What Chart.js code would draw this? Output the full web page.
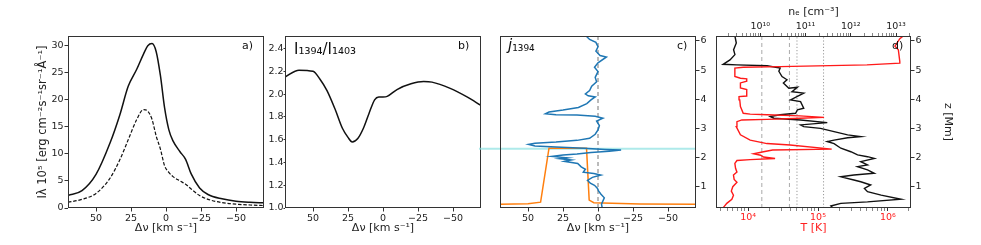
<!DOCTYPE html>
<html>
<head>
<meta charset="utf-8">
<script src="https://cdn.jsdelivr.net/npm/chart.js@4"></script>
<style>
body { margin: 0; background: #fff; }
#wrap { position: relative; width: 981px; height: 245px; }
canvas { position: absolute; left: 0; top: 0; }
</style>
</head>
<body>
<div id="wrap">
  <canvas id="panelA" width="981" height="245"></canvas>
  <canvas id="panelB" width="981" height="245"></canvas>
  <canvas id="panelC" width="981" height="245"></canvas>
  <canvas id="panelD" width="981" height="245"></canvas>
</div>
<script>
// ---- data ----
// a) line profiles (solid = 1394, dashed = 1403)
const dvA = [70, 60, 50, 40, 33, 27, 21, 16, 13, 10, 7, 4, 1, -2, -5, -10, -14, -18, -24, -30, -40, -50, -60, -70];
const int1394 = [2.3, 3.2, 6.2, 12.0, 17.2, 22.5, 25.6, 28.5, 30.0, 30.4, 28.9, 24.5, 18.5, 14.5, 12.4, 10.4, 9.0, 6.3, 3.7, 2.5, 1.7, 1.25, 1.05, 0.95];
const int1403 = [1.05, 1.6, 2.7, 5.5, 8.9, 12.6, 16.3, 18.2, 17.9, 16.4, 13.3, 10.9, 7.8, 6.6, 5.8, 5.0, 4.4, 3.5, 2.3, 1.6, 1.0, 0.7, 0.55, 0.45];

// b) ratio
const dvB = [70, 60, 50, 45, 40, 34, 29, 25, 22, 18, 14, 10, 6, 3, 0, -3, -10, -20, -29, -35, -48, -60, -70];
const ratio = [2.15, 2.21, 2.20, 2.13, 2.03, 1.86, 1.70, 1.62, 1.58, 1.61, 1.70, 1.83, 1.95, 1.975, 1.975, 1.98, 2.04, 2.09, 2.11, 2.105, 2.05, 1.975, 1.90];

// c) velocity (blue) and emissivity outline (orange) vs height
const velDv = [-3.0, -2.5, -4.5, -2.0, -0.5, 0.5, 2.5, 5.5, 7.5, 4.0, -2.0, 3.0, 10.5, 9.0, 12.0, 14.5, 20.0, 24.0, 19.0, 27.0, 22.0, 33.0, 25.0, 15.0, 5.0, -8.0, -16.5, -5.0, 10.0, 30.0, 45.0, 49.5, 45.0, 30.0, 15.0, 6.0, 2.0, 0.0, -1.0, 1.0, -3.5, 2.0, 15.0, 30.0, 37.5, 35.0, 25.0, 14.0, 8.0, 5.0, 2.0, 7.0, 9.0, 6.0, 4.5, 1.0, 2.0, 0.0, 2.5, 0.0, -6.0, -1.5, 1.5, 0.0, 1.5, 6.0, 8.5];
const velZ = [0.27, 0.40, 0.62, 0.75, 0.85, 0.95, 1.05, 1.12, 1.22, 1.32, 1.40, 1.45, 1.50, 1.60, 1.68, 1.80, 1.84, 1.87, 1.92, 1.96, 1.99, 2.04, 2.09, 2.12, 2.17, 2.22, 2.26, 2.28, 2.32, 2.36, 2.40, 2.45, 2.49, 2.53, 2.59, 2.66, 2.80, 2.95, 3.10, 3.25, 3.35, 3.42, 3.46, 3.47, 3.50, 3.56, 3.63, 3.72, 3.85, 3.98, 4.08, 4.12, 4.18, 4.30, 4.45, 4.60, 4.75, 4.95, 5.10, 5.25, 5.45, 5.50, 5.65, 5.80, 5.95, 6.05, 6.17];
const jDv = [70, 50, 41, 35, 8.2, 6.3, 3.0, -10, -30, -70];
const jZ = [0.40, 0.42, 0.47, 2.32, 2.32, 0.54, 0.45, 0.43, 0.41, 0.40];
const zeroDv = [0, 0];
const zeroZ = [0.27, 6.17];
const stripeDv = [85, -70];
const stripeZ = [2.30, 2.30];

// d) temperature (red, bottom axis) and electron density (black, top axis)
const tempK = [4440, 4950, 5850, 6170, 5750, 6030, 6920, 6310, 6170, 6920, 6610, 6460, 6920, 10700, 24300, 16600, 15100, 12000, 16600, 22400, 157000, 39800, 18600, 10700, 7760, 6760, 6920, 8130, 18600, 55000, 122000, 55000, 18600, 10700, 8510, 7760, 7590, 7410, 9550, 9550, 7760, 7760, 9550, 9550, 7760, 6460, 6460, 8510, 28800, 501000, 1480000, 1480000, 1410000, 1260000, 1480000, 1660000];
const tempZ = [0.29, 0.43, 0.57, 0.71, 0.85, 1.00, 1.15, 1.25, 1.40, 1.50, 1.63, 1.80, 1.90, 1.93, 1.97, 2.02, 2.08, 2.13, 2.20, 2.26, 2.29, 2.43, 2.48, 2.60, 2.78, 3.06, 3.23, 3.29, 3.31, 3.35, 3.38, 3.43, 3.47, 3.49, 3.52, 3.75, 3.98, 4.09, 4.11, 4.33, 4.39, 4.56, 4.62, 4.70, 4.72, 4.78, 5.07, 5.10, 5.12, 5.18, 5.24, 5.29, 5.70, 5.82, 6.08, 6.17];
const neCm3 = [2.75e9, 2.95e9, 2.57e9, 2.75e9, 2.14e9, 1.66e9, 1.51e9, 3.02e9, 1.41e10, 2.75e10, 2.57e10, 3.02e10, 3.89e10, 3.24e10, 4.27e10, 6.61e10, 5.01e10, 9.12e10, 6.61e10, 4.68e10, 7.76e10, 9.12e10, 6.61e10, 6.03e10, 2.75e10, 1.66e10, 2.0e10, 7.76e10, 3.02e11, 7.76e10, 9.12e10, 2.14e11, 4.27e11, 8.51e11, 1.66e12, 8.51e11, 4.27e11, 3.02e11, 4.27e11, 6.03e11, 1.0e12, 1.41e12, 2.34e12, 3.31e12, 1.66e12, 2.34e12, 1.41e12, 2.34e12, 3.31e12, 1.17e12, 6.03e11, 1.17e12, 1.66e12, 2.75e12, 2.0e12, 2.34e12, 4.68e12, 1.29e13, 2.34e12, 6.03e11, 3.63e11, 3.98e11];
const neZ = [6.17, 5.93, 5.70, 5.53, 5.35, 5.24, 5.20, 5.18, 5.15, 5.07, 4.96, 4.78, 4.67, 4.56, 4.38, 4.41, 4.26, 4.21, 4.10, 3.98, 3.92, 3.69, 3.64, 3.52, 3.47, 3.41, 3.35, 3.29, 3.20, 3.12, 3.06, 3.00, 2.89, 2.78, 2.72, 2.68, 2.60, 2.55, 2.48, 2.32, 2.20, 2.09, 2.03, 1.97, 1.86, 1.75, 1.69, 1.58, 1.46, 1.40, 1.34, 1.23, 1.17, 1.06, 0.94, 0.83, 0.71, 0.57, 0.48, 0.43, 0.34, 0.27];
const tempDashed = [1.57e4, 3.9e4];
const tempDotted = [5.0e4, 1.2e5];

// ticks and limits
const dvTicks = [50, 25, 0, -25, -50];
const intTicks = [0, 5, 10, 15, 20, 25, 30];
const ratioTicks = [1.0, 1.2, 1.4, 1.6, 1.8, 2.0, 2.2, 2.4];
const zTicks = [1, 2, 3, 4, 5, 6];
const tempTicks = [1e4, 1e5, 1e6];
const neTicks = [1e10, 1e11, 1e12, 1e13];
const dvMin = -70, dvMax = 70;
const zMin = 0.27, zMax = 6.17;

// ---- helpers ----
const FONT = 'DejaVu Sans';
Chart.defaults.font.family = FONT;
Chart.defaults.font.size = 9.5;
Chart.defaults.color = '#222';
Chart.defaults.animation = false;
Chart.defaults.responsive = false;
Chart.defaults.plugins.legend.display = false;
Chart.defaults.plugins.tooltip.enabled = false;
Chart.defaults.elements.point.radius = 0;
Chart.defaults.elements.line.borderWidth = 1.5;

const zip = (xs, ys) => xs.map((x, i) => ({x: x, y: ys[i]}));
const fixW = w => s => { s.width = w; };
const fixH = h => s => { s.height = h; };
const setTicks = vals => s => { s.ticks = vals.map(v => ({value: v, major: true})); };
const minus = v => (v < 0 ? '\u2212' + Math.abs(v) : String(v));
const SUP = {'0':'⁰','1':'¹','2':'²','3':'³','4':'⁴','5':'⁵','6':'⁶','7':'⁷','8':'⁸','9':'⁹'};
const isPow10 = v => Math.abs(Math.log10(v) - Math.round(Math.log10(v))) < 1e-6;
const powLabel = v => isPow10(v) ? '10' + String(Math.round(Math.log10(v))).split('').map(c => SUP[c]).join('') : '';

// majors plus 2..9 minors between the limits
function logTicks(majors, lo, hi) {
  let out = [];
  let d = Math.pow(10, Math.floor(Math.log10(lo)));
  while (d <= hi) {
    for (let m = 1; m < 10; m++) {
      const v = m * d;
      if (v >= lo && v <= hi) out.push({value: v, major: m === 1});
    }
    d *= 10;
  }
  return s => { s.ticks = out; };
}

const grid = (len) => ({display: true, drawOnChartArea: false, drawTicks: true, tickLength: len, tickColor: '#333', lineWidth: 1});
const logGrid = {display: true, drawOnChartArea: false, drawTicks: true, tickLength: 3,
  tickColor: c => (c.tick && c.tick.major ? '#333' : '#888'), lineWidth: 1};

const frame = {
  id: 'frame',
  afterDraw(chart, args, opts) {
    const {ctx, chartArea: a} = chart;
    ctx.save();
    ctx.strokeStyle = '#333';
    ctx.lineWidth = 1;
    ctx.strokeRect(Math.round(a.left) + 0.5, Math.round(a.top) + 0.5, Math.round(a.width) - 1, Math.round(a.height) - 1);
    ctx.fillStyle = '#111';
    ctx.textBaseline = 'middle';
    (opts.texts || []).forEach(t => {
      let x = t.x;
      t.parts.forEach(p => {
        ctx.font = p.font;
        ctx.fillText(p.text, x, t.y + (p.dy || 0));
        x += ctx.measureText(p.text).width;
      });
    });
    ctx.restore();
  }
};

const dvAxis = (h) => ({
  type: 'linear', position: 'bottom', min: dvMin, max: dvMax, reverse: true,
  afterBuildTicks: setTicks(dvTicks), afterFit: fixH(h),
  ticks: {callback: minus, maxRotation: 0, autoSkip: false, padding: 1},
  grid: grid(3.5), border: {display: false},
  title: {display: true, text: 'Δν [km s⁻¹]', font: {size: 11}, color: '#222', padding: {top: 0, bottom: 10}}
});

// ---- a) ----
new Chart(document.getElementById('panelA'), {
  type: 'scatter',
  data: {
    datasets: [
      {data: zip(dvA, int1394), showLine: true, borderColor: '#111', cubicInterpolationMode: 'monotone'},
      {data: zip(dvA, int1403), showLine: true, borderColor: '#111', borderWidth: 1.2, borderDash: [3.5, 1.8], cubicInterpolationMode: 'monotone'}
    ]
  },
  options: {
    layout: {padding: {left: 0, top: 36, right: 717, bottom: 0}},
    scales: {
      x: dvAxis(37),
      y: {
        type: 'linear', position: 'left', min: 0, max: 31.8,
        afterBuildTicks: setTicks(intTicks), afterFit: fixW(68),
        ticks: {padding: 1, autoSkip: false},
        grid: grid(3.5), border: {display: false},
        title: {display: true, text: 'Iλ 10⁵ [erg cm⁻²s⁻¹sr⁻¹Å⁻¹]', font: {size: 11.5}, color: '#222', padding: {top: 36, bottom: 0}}
      }
    },
    plugins: {frame: {texts: [{x: 242, y: 46, parts: [{text: 'a)', font: '11px ' + FONT}]}]}}
  },
  plugins: [frame]
});

// ---- b) ----
new Chart(document.getElementById('panelB'), {
  type: 'scatter',
  data: {
    datasets: [
      {data: zip(dvB, ratio), showLine: true, borderColor: '#111', cubicInterpolationMode: 'monotone'}
    ]
  },
  options: {
    layout: {padding: {left: 260, top: 36, right: 500, bottom: 0}},
    scales: {
      x: dvAxis(37),
      y: {
        type: 'linear', position: 'left', min: 1.0, max: 2.51,
        afterBuildTicks: setTicks(ratioTicks), afterFit: fixW(25),
        ticks: {padding: 0, autoSkip: false, callback: v => v.toFixed(1)},
        grid: grid(1.5), border: {display: false}
      }
    },
    plugins: {frame: {texts: [
      {x: 458, y: 46, parts: [{text: 'b)', font: '11px ' + FONT}]},
      {x: 294, y: 50, parts: [{text: 'I₁₃₉₄/I₁₄₀₃', font: '15px ' + FONT}]}
    ]}}
  },
  plugins: [frame]
});

// ---- c) ----
new Chart(document.getElementById('panelC'), {
  type: 'scatter',
  data: {
    datasets: [
      {data: zip(velDv, velZ), showLine: true, borderColor: '#1f77b4', borderWidth: 1.5},
      {data: zip(jDv, jZ), showLine: true, borderColor: '#ff7f0e', borderWidth: 1.5},
      {data: zip(zeroDv, zeroZ), showLine: true, borderColor: '#777', borderWidth: 1, borderDash: [4, 3]},
      {data: zip(stripeDv, stripeZ), showLine: true, borderColor: 'rgba(140,225,225,0.7)', borderWidth: 2, clip: false}
    ]
  },
  options: {
    layout: {padding: {left: 500, top: 36, right: 265, bottom: 0}},
    scales: {
      x: dvAxis(37),
      y: {
        type: 'linear', position: 'right', min: zMin, max: zMax,
        afterBuildTicks: setTicks(zTicks), afterFit: fixW(20),
        ticks: {padding: 1, autoSkip: false},
        grid: grid(3.5), border: {display: false}
      }
    },
    plugins: {frame: {texts: [
      {x: 677, y: 46, parts: [{text: 'c)', font: '11px ' + FONT}]},
      {x: 508, y: 46, parts: [{text: 'j', font: 'italic 15px ' + FONT}, {text: '₁₃₉₄', font: '14px ' + FONT, dy: 1}]}
    ]}}
  },
  plugins: [frame]
});

// ---- d) ----
const vline = (vals, dash, col) => vals.map(v => ({
  data: zip([v, v], [zMin, zMax]), xAxisID: 'xT', showLine: true, borderColor: col, borderWidth: 1, borderDash: dash
}));

new Chart(document.getElementById('panelD'), {
  type: 'scatter',
  data: {
    datasets: [
      {data: zip(tempK, tempZ), xAxisID: 'xT', showLine: true, borderColor: '#ff1a1a', borderWidth: 1.4},
      {data: zip(neCm3, neZ), xAxisID: 'xN', showLine: true, borderColor: '#111', borderWidth: 1.4}
    ].concat(vline(tempDashed, [4, 3], '#aaa'), vline(tempDotted, [1.2, 2], '#999'))
  },
  options: {
    layout: {padding: {left: 716, top: 0, right: 0, bottom: 0}},
    scales: {
      xT: {
        type: 'logarithmic', position: 'bottom', min: 3470, max: 2.14e6,
        afterBuildTicks: logTicks(tempTicks, 3470, 2.14e6), afterFit: fixH(37),
        ticks: {callback: powLabel, maxRotation: 0, autoSkip: false, padding: 1, color: '#ff2020'},
        grid: logGrid, border: {display: false},
        title: {display: true, text: 'T [K]', font: {size: 11}, color: '#ff2020', padding: {top: 0, bottom: 10}}
      },
      xN: {
        type: 'logarithmic', position: 'top', min: 1.05e9, max: 2.14e13,
        afterBuildTicks: logTicks(neTicks, 1.05e9, 2.14e13), afterFit: fixH(36),
        ticks: {callback: powLabel, maxRotation: 0, autoSkip: false, padding: 1},
        grid: logGrid, border: {display: false},
        title: {display: true, text: 'nₑ [cm⁻³]', font: {size: 11}, color: '#222', padding: {top: 6, bottom: 0}}
      },
      y: {
        type: 'linear', position: 'right', min: zMin, max: zMax,
        afterBuildTicks: setTicks(zTicks), afterFit: fixW(70),
        ticks: {padding: 1, autoSkip: false},
        grid: grid(3.5), border: {display: false},
        title: {display: true, text: 'z [Mm]', font: {size: 11}, color: '#222', padding: {top: 27, bottom: 0}}
      }
    },
    plugins: {frame: {texts: [{x: 892, y: 46, parts: [{text: 'd)', font: '11px ' + FONT}]}]}}
  },
  plugins: [frame]
});
</script>
</body>
</html>
